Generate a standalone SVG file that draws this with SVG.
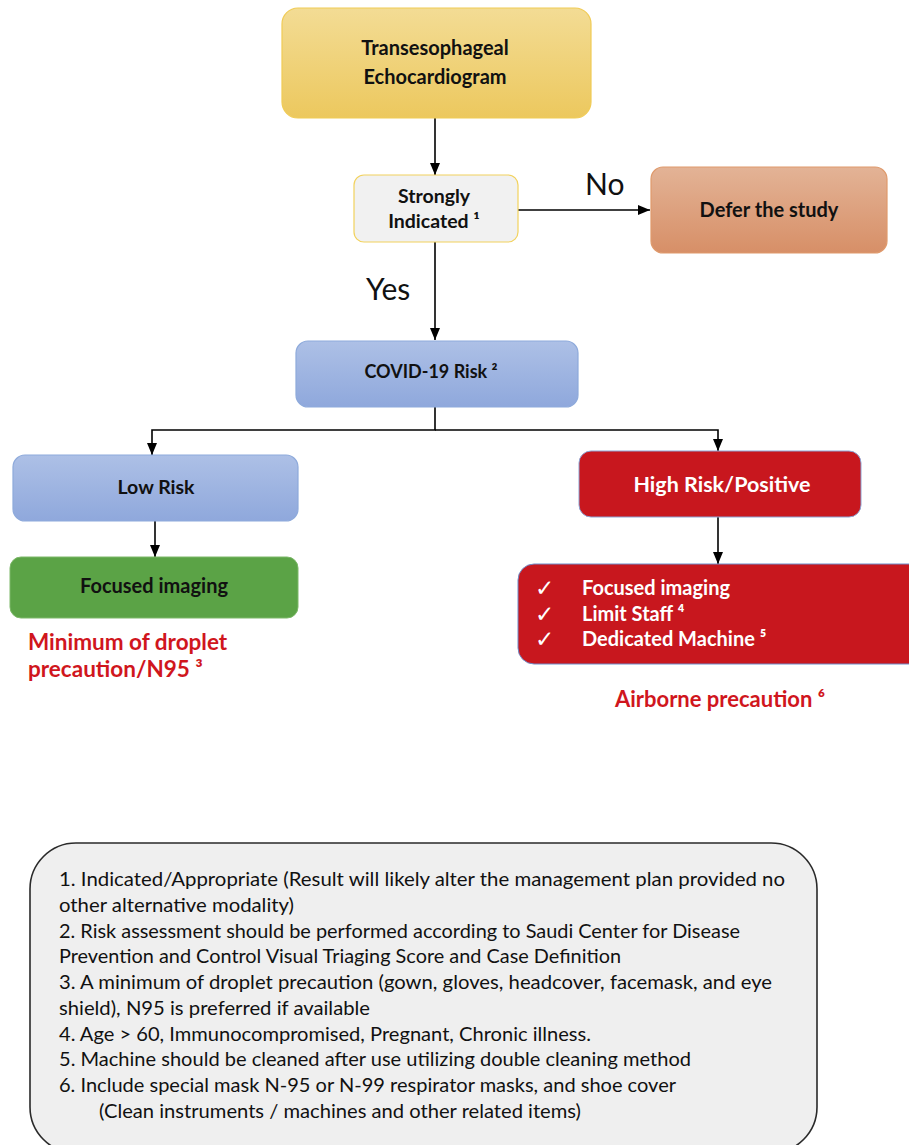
<svg xmlns="http://www.w3.org/2000/svg" width="909" height="1145" viewBox="0 0 909 1145">
<style>
.b{font-family:Lato,"Open Sans","Liberation Sans",sans-serif;font-weight:700;fill:#111}
.w{fill:#fff}
.r{fill:#d0161d}
.lbl{font-family:Lato,"Open Sans","Liberation Sans",sans-serif;font-size:30px;fill:#111}
.fn{font-family:Lato,"Open Sans","Liberation Sans",sans-serif;font-size:20px;fill:#111}
.ck{font-family:"DejaVu Sans",sans-serif;font-size:23px;fill:#fff}
.c{fill:none;stroke:#000;stroke-width:1.6}
</style>
<defs>
<marker id="ah" markerUnits="userSpaceOnUse" markerWidth="12" markerHeight="12" viewBox="0 0 12 12" refX="12" refY="6" orient="auto">
<path d="M0,1 L12,6 L0,11 Z" fill="#000"/>
</marker>
<linearGradient id="gy" x1="0" y1="0" x2="0" y2="1"><stop offset="0" stop-color="#f3dc95"/><stop offset="1" stop-color="#ecc85e"/></linearGradient>
<linearGradient id="go" x1="0" y1="0" x2="0" y2="1"><stop offset="0" stop-color="#e3b396"/><stop offset="1" stop-color="#d78f67"/></linearGradient>
<linearGradient id="gb" x1="0" y1="0" x2="0" y2="1"><stop offset="0" stop-color="#adc0e6"/><stop offset="1" stop-color="#8fa8dc"/></linearGradient>
</defs>

<g id="connectors">
<line class="c" x1="435" y1="118" x2="435" y2="175" marker-end="url(#ah)"/>
<line class="c" x1="518" y1="210" x2="650" y2="210" marker-end="url(#ah)"/>
<line class="c" x1="435" y1="242" x2="435" y2="340" marker-end="url(#ah)"/>
<polyline class="c" points="435,407 435,430 152,430 152,455" marker-end="url(#ah)"/>
<polyline class="c" points="435,430 718,430 718,451" marker-end="url(#ah)"/>
<line class="c" x1="155" y1="520" x2="155" y2="557" marker-end="url(#ah)"/>
<line class="c" x1="718" y1="517" x2="718" y2="564" marker-end="url(#ah)"/>
<text class="lbl" x="585" y="195">No</text>
<text class="lbl" x="366" y="300">Yes</text>
</g>

<g id="tee">
<rect x="282" y="8" width="309" height="110" rx="16" fill="url(#gy)" stroke="#f0cb55" stroke-width="1.2"/>
<text class="b" font-size="20" text-anchor="middle" x="435" y="55">Transesophageal</text>
<text class="b" font-size="20" text-anchor="middle" x="435" y="84">Echocardiogram</text>
</g>

<g id="strongly">
<rect x="354" y="175" width="164" height="67" rx="10" fill="#f1f1f1" stroke="#f2d25e" stroke-width="1.2"/>
<text class="b" font-size="19.5" text-anchor="middle" x="434" y="203">Strongly</text>
<text class="b" font-size="19.5" text-anchor="middle" x="434" y="228">Indicated ¹</text>
</g>

<g id="defer">
<rect x="651" y="167" width="236" height="86" rx="12" fill="url(#go)" stroke="#df9a6c" stroke-width="1.2"/>
<text class="b" font-size="20" text-anchor="middle" x="769" y="217">Defer the study</text>
</g>

<g id="covid">
<rect x="296" y="341" width="282" height="66" rx="12" fill="url(#gb)" stroke="#8eaadb" stroke-width="1.2"/>
<text class="b" font-size="18" text-anchor="middle" x="431" y="378">COVID-19 Risk ²</text>
</g>

<g id="low">
<rect x="13" y="455" width="285" height="66" rx="12" fill="url(#gb)" stroke="#8eaadb" stroke-width="1.2"/>
<text class="b" font-size="19.5" text-anchor="middle" x="156" y="494">Low Risk</text>
</g>

<g id="high">
<rect x="579" y="451" width="282" height="66" rx="12" fill="#c8171e" stroke="#8da4d4" stroke-width="1"/>
<text class="b w" font-size="21.5" text-anchor="middle" x="722" y="492">High Risk/Positive</text>
</g>

<g id="focused">
<rect x="10" y="557" width="288" height="61" rx="11" fill="#5ba346" stroke="#7cb868" stroke-width="1"/>
<text class="b" font-size="20" text-anchor="middle" x="154" y="593">Focused imaging</text>
</g>

<g id="droplet">
<text class="b r" font-size="22.5" x="28" y="650">Minimum of droplet</text>
<text class="b r" font-size="22.5" x="28" y="677">precaution/N95 ³</text>
</g>

<g id="measures">
<rect x="518" y="564" width="410" height="100" rx="16" fill="#c8171e" stroke="#6f8cc8" stroke-width="1"/>
<text class="ck" x="535" y="596">✓</text>
<text class="ck" x="535" y="622">✓</text>
<text class="ck" x="535" y="647">✓</text>
<text class="b w" font-size="20" x="582" y="595">Focused imaging</text>
<text class="b w" font-size="20" x="582" y="621">Limit Staff ⁴</text>
<text class="b w" font-size="20" x="582" y="646">Dedicated Machine ⁵</text>
</g>

<g id="airborne">
<text class="b r" font-size="22" text-anchor="middle" x="720" y="707">Airborne precaution ⁶</text>
</g>

<g id="footnotes">
<rect x="30" y="843" width="787" height="310" rx="46" fill="#efefef" stroke="#2a2a2a" stroke-width="1.6"/>
<text class="fn" x="59" y="886" textLength="726" lengthAdjust="spacingAndGlyphs">1. Indicated/Appropriate (Result will  likely alter the management plan provided no</text>
<text class="fn" x="59" y="912" textLength="235" lengthAdjust="spacingAndGlyphs">other alternative modality)</text>
<text class="fn" x="59" y="938" textLength="681" lengthAdjust="spacingAndGlyphs">2. Risk assessment should be performed according to Saudi Center for Disease</text>
<text class="fn" x="59" y="963" textLength="562" lengthAdjust="spacingAndGlyphs">Prevention and Control Visual Triaging Score and Case Definition</text>
<text class="fn" x="59" y="989" textLength="713" lengthAdjust="spacingAndGlyphs">3. A minimum of droplet precaution (gown, gloves, headcover, facemask, and eye</text>
<text class="fn" x="59" y="1015" textLength="311" lengthAdjust="spacingAndGlyphs">shield), N95 is preferred if available</text>
<text class="fn" x="59" y="1041" textLength="532" lengthAdjust="spacingAndGlyphs">4. Age &gt; 60, Immunocompromised, Pregnant, Chronic illness.</text>
<text class="fn" x="59" y="1066" textLength="632" lengthAdjust="spacingAndGlyphs">5. Machine should be cleaned after use utilizing double cleaning method</text>
<text class="fn" x="59" y="1092" textLength="617" lengthAdjust="spacingAndGlyphs">6. Include special mask N-95 or N-99 respirator masks,  and shoe cover</text>
<text class="fn" x="99" y="1118" textLength="482" lengthAdjust="spacingAndGlyphs">(Clean instruments / machines and other related items)</text>
</g>
</svg>
